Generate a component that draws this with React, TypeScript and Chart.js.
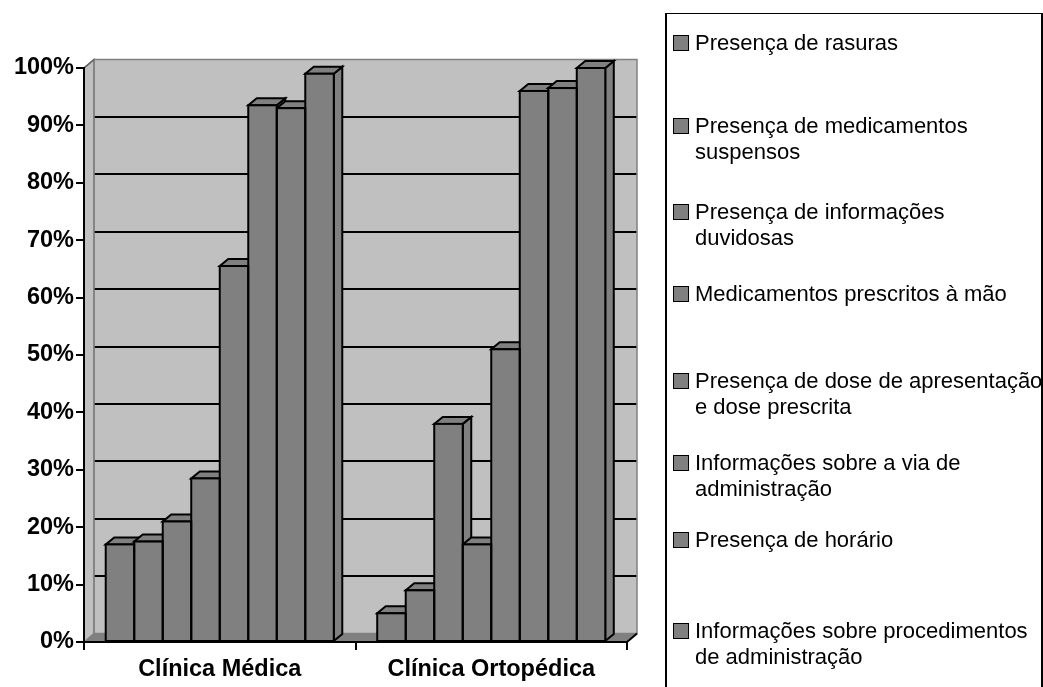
import React, { useEffect, useRef } from "react";
import { Chart, registerables } from "chart.js";

Chart.register(...registerables);

// ---------- data ----------
const categories = ["Clínica Médica", "Clínica Ortopédica"];
const seriesNames = [
  "Presença de rasuras",
  "Presença de medicamentos suspensos",
  "Presença de informações duvidosas",
  "Medicamentos prescritos à mão",
  "Presença de dose de apresentação e dose prescrita",
  "Informações sobre a via de administração",
  "Presença de horário",
  "Informações sobre procedimentos de administração",
];
const clinicaMedica = [17, 17.5, 21, 28.5, 65.5, 93.5, 93, 99];
const clinicaOrtopedica = [5, 9, 38, 17, 51, 96, 96.5, 100];
const yTickValues = [0, 10, 20, 30, 40, 50, 60, 70, 80, 90, 100];
const yTickLabels = ["0%", "10%", "20%", "30%", "40%", "50%", "60%", "70%", "80%", "90%", "100%"];

// ---------- layout / style ----------
const W = 1043;
const H = 687;
const AREA = { left: 84, right: 627, top: 68, bottom: 642 };
const WALL = { dx: 10, dy: -8.5 };
const BAR = { dx: 8.5, dy: -7 };
const BAR_FILL = "#808080";
const WALL_FILL = "#c0c0c0";
const FONT = "'Liberation Sans', Arial, sans-serif";
const LEGEND_LINE_TOPS = [30, 113, 199, 281, 368, 450, 527, 618];

function poly(ctx: CanvasRenderingContext2D, pts: number[][]) {
  ctx.beginPath();
  ctx.moveTo(pts[0][0], pts[0][1]);
  for (let i = 1; i < pts.length; i++) ctx.lineTo(pts[i][0], pts[i][1]);
  ctx.closePath();
}

const threeDPlugin = {
  id: "threeD",
  beforeDraw(chart: any) {
    const { ctx, chartArea: a, scales } = chart;
    const y = scales.y;
    const { dx, dy } = WALL;
    ctx.save();
    // floor
    poly(ctx, [
      [a.left, a.bottom],
      [a.right, a.bottom],
      [a.right + dx, a.bottom + dy],
      [a.left + dx, a.bottom + dy],
    ]);
    ctx.fillStyle = BAR_FILL;
    ctx.fill();
    // back wall
    ctx.fillStyle = WALL_FILL;
    ctx.fillRect(a.left + dx, a.top + dy, a.right - a.left, a.bottom - a.top);
    // left wall
    poly(ctx, [
      [a.left, a.top],
      [a.left + dx, a.top + dy],
      [a.left + dx, a.bottom + dy],
      [a.left, a.bottom],
    ]);
    ctx.fill();
    ctx.strokeStyle = "#808080";
    ctx.lineWidth = 1.5;
    ctx.stroke();
    // gridlines on back wall
    ctx.strokeStyle = "#000";
    ctx.lineWidth = 2;
    for (const v of yTickValues) {
      if (v === yTickValues[0] || v === yTickValues[yTickValues.length - 1]) continue;
      const py = Math.round(y.getPixelForValue(v) + dy);
      ctx.beginPath();
      ctx.moveTo(a.left + dx, py);
      ctx.lineTo(a.right + dx, py);
      ctx.stroke();
    }
    // wall outline
    ctx.strokeStyle = "#808080";
    ctx.lineWidth = 1.5;
    ctx.strokeRect(a.left + dx, a.top + dy, a.right - a.left, a.bottom - a.top);
    // floor edges
    ctx.strokeStyle = "#000";
    ctx.lineWidth = 2;
    ctx.beginPath();
    ctx.moveTo(a.right, a.bottom);
    ctx.lineTo(a.right + dx, a.bottom + dy);
    ctx.stroke();
    ctx.strokeStyle = "#606060";
    ctx.lineWidth = 1.5;
    ctx.beginPath();
    ctx.moveTo(a.left, a.top);
    ctx.lineTo(a.left + dx, a.top + dy);
    ctx.stroke();
    ctx.restore();
  },
  beforeDatasetsDraw(chart: any) {
    const { ctx } = chart;
    const n = chart.data.datasets.length;
    const nCat = chart.data.labels.length;
    const { dx, dy } = BAR;
    ctx.save();
    ctx.fillStyle = BAR_FILL;
    ctx.strokeStyle = "#000";
    ctx.lineWidth = 2;
    ctx.lineJoin = "miter";
    for (let j = 0; j < nCat; j++) {
      for (let i = 0; i < n; i++) {
        const el = chart.getDatasetMeta(i).data[j];
        if (!el) continue;
        const l = el.x - el.width / 2;
        const r = el.x + el.width / 2;
        const t = el.y;
        const b = el.base;
        // side face
        poly(ctx, [
          [r, t],
          [r + dx, t + dy],
          [r + dx, b + dy],
          [r, b],
        ]);
        ctx.fill();
        ctx.stroke();
        // top face
        poly(ctx, [
          [l, t],
          [r, t],
          [r + dx, t + dy],
          [l + dx, t + dy],
        ]);
        ctx.fill();
        ctx.stroke();
      }
    }
    ctx.restore();
  },
  afterDatasetsDraw(chart: any) {
    const { ctx } = chart;
    const n = chart.data.datasets.length;
    const nCat = chart.data.labels.length;
    ctx.save();
    ctx.strokeStyle = "#000";
    ctx.lineWidth = 2;
    for (let j = 0; j < nCat; j++) {
      for (let i = 0; i < n; i++) {
        const el = chart.getDatasetMeta(i).data[j];
        if (!el) continue;
        const l = el.x - el.width / 2;
        const r = el.x + el.width / 2;
        ctx.strokeRect(l, el.y, r - l, el.base - el.y);
      }
    }
    ctx.restore();
  },
};

export default function App() {
  const canvasRef = useRef<HTMLCanvasElement | null>(null);

  useEffect(() => {
    const canvas = canvasRef.current;
    if (!canvas) return;
    const datasets = seriesNames.map((name, i) => ({
      label: name,
      data: [clinicaMedica[i], clinicaOrtopedica[i]],
      backgroundColor: BAR_FILL,
      borderWidth: 0,
      categoryPercentage: 0.84,
      barPercentage: 1.0,
    }));
    const chart = new Chart(canvas, {
      type: "bar",
      data: { labels: categories, datasets },
      options: {
        animation: false,
        responsive: false,
        devicePixelRatio: 1,
        events: [],
        layout: {
          padding: { left: 0, top: AREA.top, right: W - AREA.right, bottom: 0 },
        },
        plugins: {
          legend: { display: false },
          tooltip: { enabled: false },
          title: { display: false },
        },
        scales: {
          x: {
            type: "category",
            offset: true,
            grid: {
              display: true,
              offset: true,
              drawOnChartArea: false,
              drawTicks: true,
              tickLength: 8,
              color: "#000",
              lineWidth: 2,
            },
            border: { display: true, color: "#000", width: 2 },
            ticks: {
              color: "#000",
              padding: 5,
              maxRotation: 0,
              autoSkip: false,
              font: { family: FONT, size: 23.5, weight: "bold" },
            },
            afterFit: (s: any) => {
              s.height = H - AREA.bottom;
            },
          },
          y: {
            min: yTickValues[0],
            max: yTickValues[yTickValues.length - 1],
            grid: {
              display: true,
              drawOnChartArea: false,
              drawTicks: true,
              tickLength: 8,
              color: "#000",
              lineWidth: 2,
            },
            border: { display: true, color: "#000", width: 2 },
            ticks: {
              stepSize: yTickValues[1] - yTickValues[0],
              color: "#000",
              padding: 2,
              font: { family: FONT, size: 23.5, weight: "bold" },
              callback: (v: any) => yTickLabels[yTickValues.indexOf(Number(v))] ?? "",
            },
            afterFit: (s: any) => {
              s.width = AREA.left;
            },
          },
        },
      } as any,
      plugins: [threeDPlugin as any],
    });
    return () => chart.destroy();
  }, []);

  return (
    <div
      style={{
        position: "fixed",
        left: 0,
        top: 0,
        width: W,
        height: H,
        background: "#fff",
        overflow: "hidden",
      }}
    >
      <canvas
        ref={canvasRef}
        width={W}
        height={H}
        style={{ position: "absolute", left: 0, top: 0, width: W, height: H }}
      />
      <div
        style={{
          position: "absolute",
          left: 665,
          top: 13,
          width: W - 665,
          height: 720,
          boxSizing: "border-box",
          borderLeft: "2px solid #000",
          borderTop: "1.5px solid #000",
          borderRight: "2px solid #000",
        }}
      />
      {seriesNames.map((name, i) => (
        <div
          key={name}
          style={{ position: "absolute", left: 673, top: LEGEND_LINE_TOPS[i], width: 370 }}
        >
          <span
            style={{
              position: "absolute",
              left: 0,
              top: 5,
              width: 16,
              height: 16,
              boxSizing: "border-box",
              background: BAR_FILL,
              border: "1.5px solid #000",
            }}
          />
          <div
            style={{
              position: "absolute",
              left: 22,
              top: 0,
              width: 351,
              fontFamily: FONT,
              fontSize: 22,
              lineHeight: "26px",
              color: "#000",
            }}
          >
            {name}
          </div>
        </div>
      ))}
    </div>
  );
}
